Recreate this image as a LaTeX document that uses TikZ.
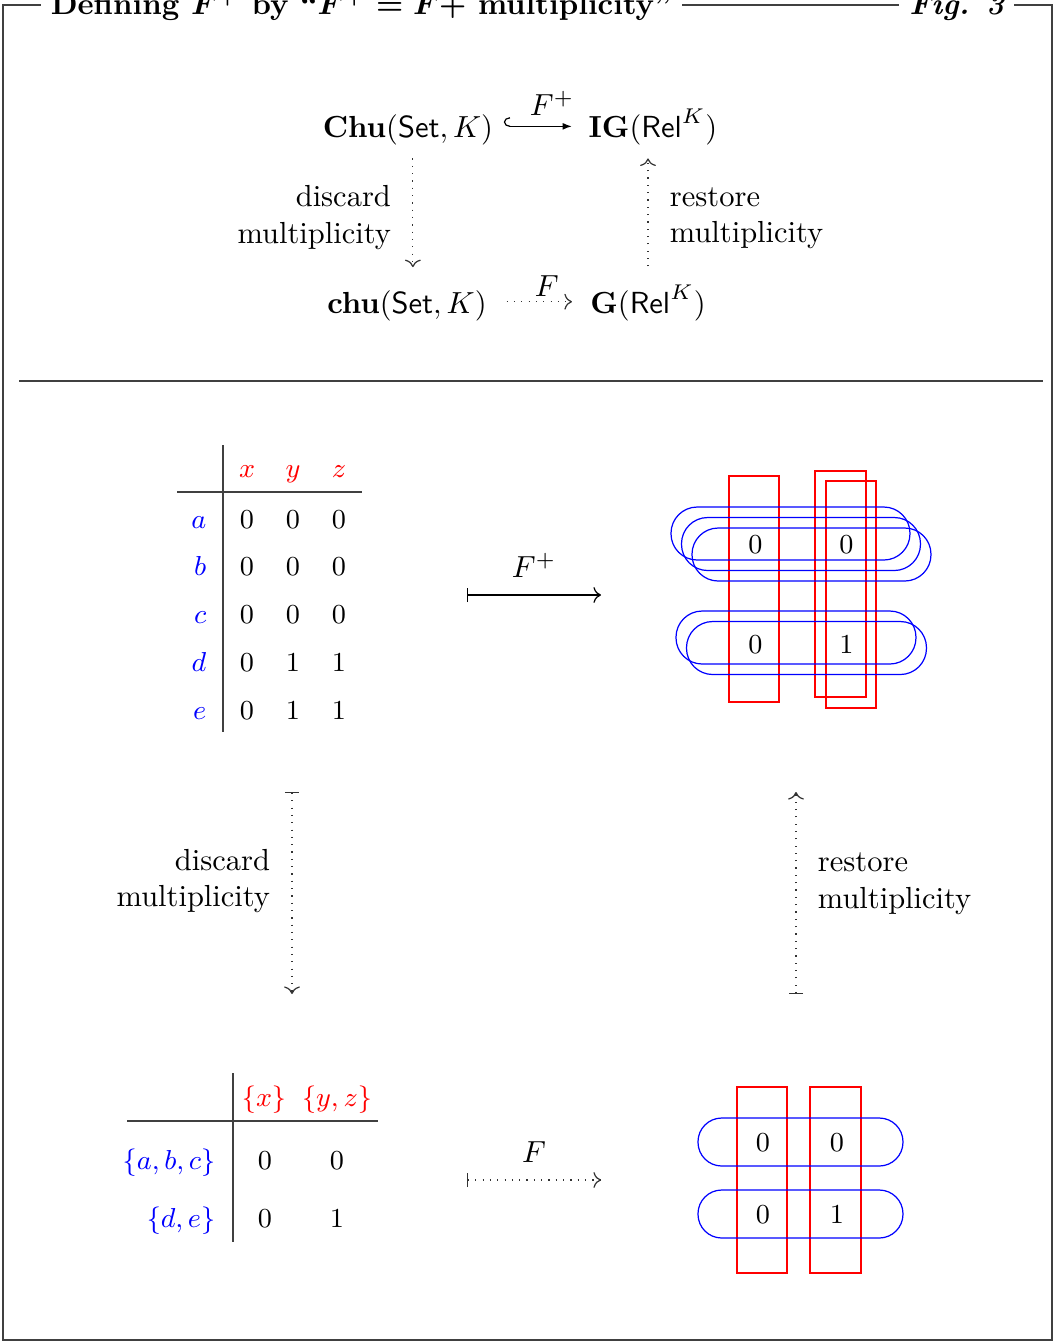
\documentclass[tikz,border=0pt]{standalone}
\usepackage{amsmath}
\usetikzlibrary{arrows.meta,positioning}

\begin{document}
\begin{tikzpicture}[
    x=0.328pt, y=-0.328pt,
    obj/.style={text=blue, anchor=base east, font=\small},
    attr/.style={text=red, anchor=base, font=\small},
    entry/.style={anchor=base, font=\small},
    cell/.style={font=\small},
    sidelabel/.style={align=right, inner xsep=7pt},
    forget/.style={->, dotted, draw=black!80},
    rowedge/.style={draw=blue, rounded corners=8.6pt},
    coledge/.style={draw=red},
    rule/.style={draw=black!75}
]
  \useasboundingbox (0,0) rectangle (1054,1342);

  % Frame and title
  \draw[rule] (3,5) rectangle (1052,1340);
  \node[fill=white, anchor=base west, font=\bfseries\boldmath] (title) at (40,14)
    {Defining $F^+$ by ``$F^+ = F +$ multiplicity''};
  \node[fill=white, anchor=base east, font=\bfseries\itshape] (fig) at (1015,14) {Fig. 3};

  % Categories
  \node[anchor=base] (ChuSet) at (408,137) {$\mathbf{Chu}(\mathsf{Set},K)$};
  \node[anchor=base] (IGRel) at (653,137) {$\mathbf{IG}(\mathsf{Rel}^K)$};
  \node[anchor=base] (chuSet) at (407,313) {$\mathbf{chu}(\mathsf{Set},K)$};
  \node[anchor=base] (GRel) at (648,313) {$\mathbf{G}(\mathsf{Rel}^K)$};

  \draw[{Hooks[right, width=6pt, length=2pt]}-{Latex[length=3pt]}, shorten >=2pt] ([yshift=1pt]ChuSet.east) -- node[above, pos=0.65] {$F^+$} ([yshift=1pt]ChuSet.east -| IGRel.west);
  \draw[forget, shorten <=3pt, shorten >=2.5pt] ([yshift=1.2pt]chuSet.east) -- node[above, inner ysep=1.5pt, pos=0.6] {$F$} ([yshift=1.2pt]chuSet.east -| GRel.west);
  \draw[forget, shorten <=1pt, shorten >=4pt] ([xshift=1.6pt]ChuSet.south) -- node[left, sidelabel] {discard\\multiplicity} ([xshift=1.6pt]ChuSet.south |- chuSet.north);
  \draw[forget, shorten <=2.5pt, shorten >=1pt] (GRel.north) -- node[right, sidelabel, align=left, pos=0.47] {restore\\multiplicity} (GRel.north |- IGRel.south);

  \draw[rule] (19,381) -- (1043,381);

  % Chu space as a table
  \draw[rule] (223,445) -- (223,732);
  \draw[rule] (177,492) -- (362,492);
  \node[attr] (x) at (247,477) {$x$};
  \node[attr] (y) at (293,477) {$y$};
  \node[attr] (z) at (339,477) {$z$};
  \node[obj] (a) at (217,528) {$a$};
  \node[entry] (a-x) at (247,528) {$0$}; \node[entry] (a-y) at (293,528) {$0$}; \node[entry] (a-z) at (339,528) {$0$};
  \node[obj] (b) at (217,575) {$b$};
  \node[entry] (b-x) at (247,575) {$0$}; \node[entry] (b-y) at (293,575) {$0$}; \node[entry] (b-z) at (339,575) {$0$};
  \node[obj] (c) at (217,623) {$c$};
  \node[entry] (c-x) at (247,623) {$0$}; \node[entry] (c-y) at (293,623) {$0$}; \node[entry] (c-z) at (339,623) {$0$};
  \node[obj] (d) at (217,671) {$d$};
  \node[entry] (d-x) at (247,671) {$0$}; \node[entry] (d-y) at (293,671) {$1$}; \node[entry] (d-z) at (339,671) {$1$};
  \node[obj] (e) at (217,719) {$e$};
  \node[entry] (e-x) at (247,719) {$0$}; \node[entry] (e-y) at (293,719) {$1$}; \node[entry] (e-z) at (339,719) {$1$};

  \coordinate (plusL) at (467,595);
  \coordinate (plusR) at (601,595);
  \draw[|->] (plusL) -- node[above=2.3pt] {$F^+$} (plusR);

  % Hypergraph with multiplicity
  \draw[coledge] (729,476) rectangle (779,702);
  \draw[coledge] (815,471) rectangle (866,697);
  \draw[coledge] (826,481) rectangle (876,708);
  \draw[rowedge] (671,507) rectangle (910,560);
  \draw[rowedge] (681.5,517.5) rectangle (920.5,570.5);
  \draw[rowedge] (692,528) rectangle (931,581);
  \draw[rowedge] (676,611) rectangle (916,664);
  \draw[rowedge] (686.5,621.5) rectangle (926.5,674.5);
  \node[cell] (hg-11) at (755.5,545) {$0$};
  \node[cell] (hg-12) at (846.5,545) {$0$};
  \node[cell] (hg-21) at (755.5,644.5) {$0$};
  \node[cell] (hg-22) at (846.5,644.5) {$1$};

  % Forget and restore multiplicity
  \coordinate (discardA) at (292,792);
  \coordinate (discardB) at (292,994);
  \draw[forget, |->] (discardA) -- node[left, sidelabel, pos=0.44, text=black] {discard\\multiplicity} (discardB);
  \coordinate (restoreA) at (796,994);
  \coordinate (restoreB) at (796,792);
  \draw[forget, |->] (restoreA) -- node[right, sidelabel, align=left, pos=0.545, text=black] {restore\\multiplicity} (restoreB);

  % Reduced Chu space
  \draw[rule] (233,1073) -- (233,1242);
  \draw[rule] (127,1121) -- (378,1121);
  \node[attr] (yx) at (264,1106) {$\{x\}$};
  \node[attr] (yyz) at (337,1106) {$\{y,z\}$};
  \node[obj] (abc) at (226,1169) {$\{a,b,c\}$};
  \node[entry] (abc-x) at (265,1169) {$0$}; \node[entry] (abc-yz) at (337,1169) {$0$};
  \node[obj] (de) at (226,1227) {$\{d,e\}$};
  \node[entry] (de-x) at (265,1227) {$0$}; \node[entry] (de-yz) at (337,1227) {$1$};

  \coordinate (plainL) at (467,1180);
  \coordinate (plainR) at (601,1180);
  \draw[forget, |->] (plainL) -- node[above=2.3pt, text=black] {$F$} (plainR);

  % Plain hypergraph
  \draw[coledge] (737,1087) rectangle (787,1273);
  \draw[coledge] (810,1087) rectangle (861,1273);
  \draw[rowedge, rounded corners=7.8pt] (698,1118) rectangle (903,1166);
  \draw[rowedge, rounded corners=7.8pt] (698,1190) rectangle (903,1238);
  \node[cell] (g-11) at (763,1143) {$0$};
  \node[cell] (g-12) at (837,1143) {$0$};
  \node[cell] (g-21) at (763,1215) {$0$};
  \node[cell] (g-22) at (837,1215) {$1$};
\end{tikzpicture}
\end{document}
